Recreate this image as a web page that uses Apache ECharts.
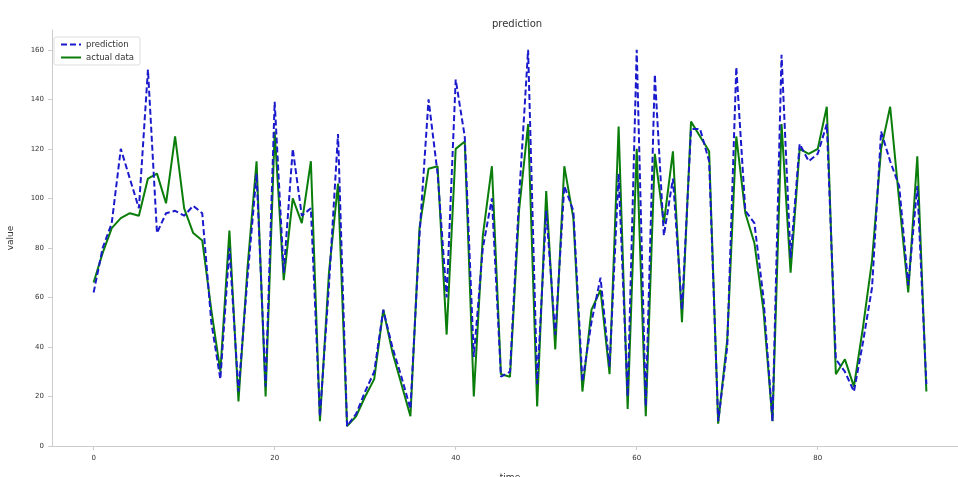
<!DOCTYPE html>
<html>
<head>
<meta charset="utf-8">
<script src="https://cdn.jsdelivr.net/npm/echarts@6/dist/echarts.min.js"></script>
<style>html,body{margin:0;padding:0;background:#fff;}#c{width:958px;height:477px;}</style>
</head>
<body>
<div id="c"></div>
<script>
const xTicks = [0, 20, 40, 60, 80];
const yTicks = [0, 20, 40, 60, 80, 100, 120, 140, 160];
const actualData = [66,78,88,92,94,93,108,110,98,125,96,86,83,55,30,87,18,72,115,20,127,67,100,90,115,10,70,106,8,12,20,27,55,38,25,12,88,112,113,45,120,123,20,85,113,29,28,95,130,16,103,39,113,92,22,55,63,29,129,15,120,12,118,90,119,50,131,125,119,9,43,125,94,82,55,10,130,70,120,118,120,137,29,35,24,48,75,120,137,99,62,117,22];
const predictionData = [62,80,90,120,108,96,152,86,94,95,93,97,94,50,27,80,22,68,110,24,139,70,120,93,96,12,65,126,8,13,22,30,55,40,28,15,85,140,110,60,148,125,36,80,100,28,30,100,160,25,95,45,105,95,26,50,68,32,110,20,160,16,150,85,108,55,128,128,115,10,40,153,95,90,60,10,158,76,122,115,118,130,35,30,22,42,64,127,115,105,65,105,25];

const toPairs = arr => arr.map((v, i) => [i, v]);
const font = 'DejaVu Sans';
const chart = echarts.init(document.getElementById('c'));
chart.setOption({
  backgroundColor: '#ffffff',
  animation: false,
  title: {
    text: 'prediction', left: 512, top: 14, textAlign: 'center',
    textStyle: {fontFamily: font, fontSize: 10, fontWeight: 'normal', color: '#333'}
  },
  legend: {
    data: ['prediction', 'actual data'],
    orient: 'vertical', left: 54, top: 37,
    itemWidth: 20, itemHeight: 8, itemGap: 4,
    padding: [3, 6, 3, 6],
    itemStyle: {opacity: 0},
    borderColor: '#dddddd', borderWidth: 1, borderRadius: 2,
    textStyle: {fontFamily: font, fontSize: 8.5, color: '#333'}
  },
  grid: {left: 52, top: 30, width: 916, height: 416, outerBoundsMode: 'none', containLabel: false},
  xAxis: {
    type: 'value', min: -4.6, max: 96.6,
    name: 'time', nameLocation: 'middle', nameGap: 27,
    nameTextStyle: {fontFamily: font, fontSize: 9, color: '#333'},
    axisLine: {show: true, onZero: false, lineStyle: {color: '#cccccc'}},
    axisTick: {show: true, length: 4, lineStyle: {color: '#cccccc'}, customValues: xTicks},
    axisLabel: {fontFamily: font, fontSize: 7, color: '#333', margin: 9, customValues: xTicks},
    splitLine: {show: false}
  },
  yAxis: {
    type: 'value', min: 0, max: 168,
    name: 'value', nameLocation: 'middle', nameGap: 37,
    nameTextStyle: {fontFamily: font, fontSize: 9, color: '#333'},
    axisLine: {show: true, onZero: false, lineStyle: {color: '#cccccc'}},
    axisTick: {show: true, length: 4, lineStyle: {color: '#cccccc'}, customValues: yTicks},
    axisLabel: {fontFamily: font, fontSize: 7, color: '#333', margin: 8, customValues: yTicks},
    splitLine: {show: false}
  },
  series: [
    {
      name: 'actual data', type: 'line', data: toPairs(actualData),
      symbol: 'none', color: '#0a7d0a',
      lineStyle: {width: 2, color: '#0a7d0a'}
    },
    {
      name: 'prediction', type: 'line', data: toPairs(predictionData),
      symbol: 'none', color: '#1a1acc',
      lineStyle: {width: 2, color: '#1a1acc', type: [6, 3]}
    }
  ]
});
</script>
</body>
</html>
